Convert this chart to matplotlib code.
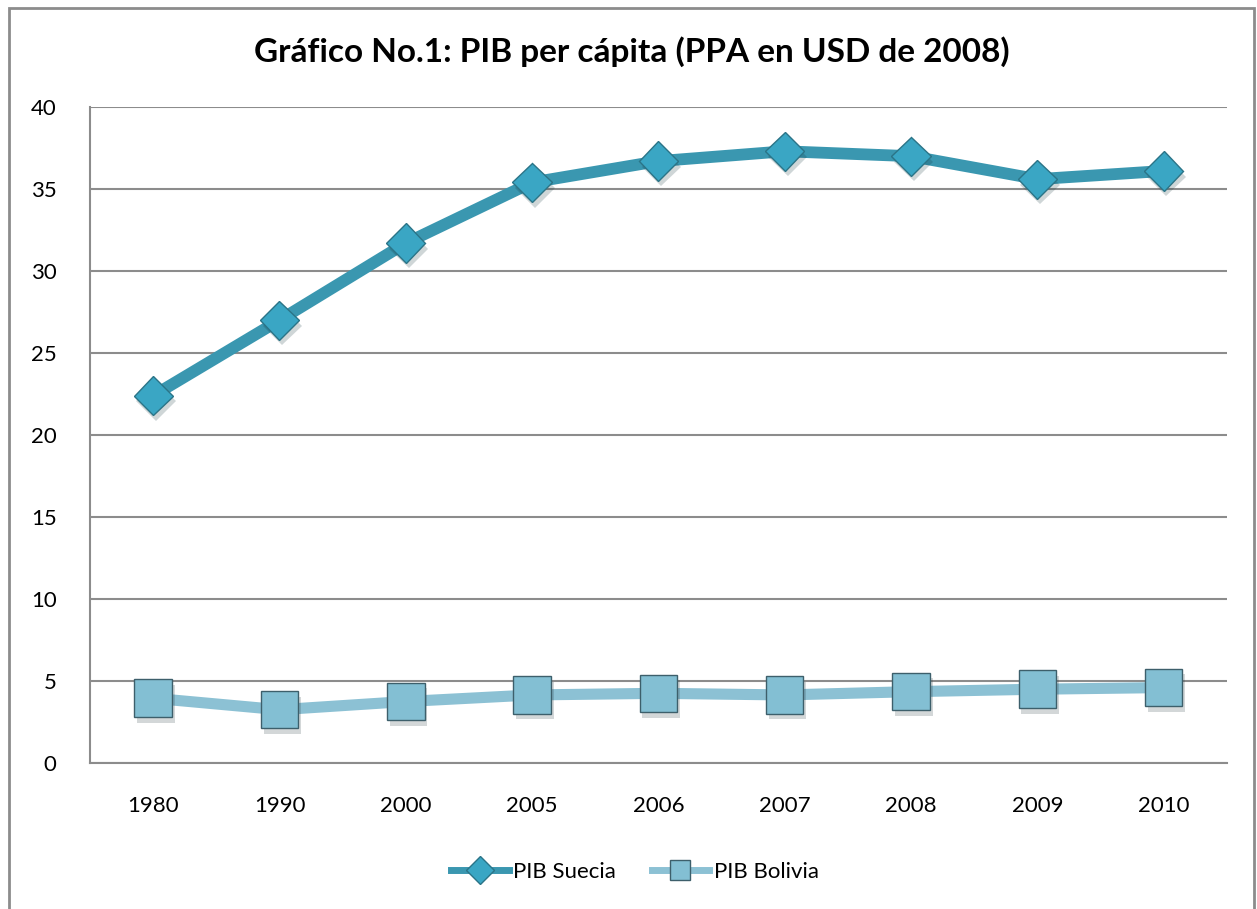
import matplotlib.pyplot as plt
import matplotlib.patheffects as pe
from matplotlib.patches import Rectangle
from matplotlib.lines import Line2D

# data
years = ["1980", "1990", "2000", "2005", "2006", "2007", "2008", "2009", "2010"]
pib_suecia = [22.4, 27.0, 31.7, 35.4, 36.7, 37.3, 37.0, 35.6, 36.1]
pib_bolivia = [3.95, 3.25, 3.75, 4.15, 4.25, 4.15, 4.35, 4.5, 4.6]

plt.rcParams["font.family"] = ["Lato", "DejaVu Sans"]

fig = plt.figure(figsize=(12.57, 9.09), dpi=100)
ax = fig.add_axes([0.0716, 0.1606, 0.9044, 0.7217])

# outer chart border
fig.patches.append(Rectangle((9 / 1257, -0.05), 1245 / 1257, 1.05 - 8 / 909,
                             transform=fig.transFigure, fill=False,
                             edgecolor="#8c8c8c", linewidth=2))

x = list(range(len(years)))
shadow = [pe.SimplePatchShadow(offset=(2, -4), alpha=0.2), pe.Normal()]

# lines
ax.plot(x, pib_suecia, color="#3a97b0", linewidth=8.5, solid_capstyle="round", zorder=3)
ax.plot(x, pib_bolivia, color="#8cc1d4", linewidth=8, solid_capstyle="round", zorder=3)
# markers with a soft shadow
ax.plot(x, pib_suecia, linestyle="none", marker="D", markersize=20,
        markerfacecolor="#3aa6c4", markeredgecolor="#2b7487", markeredgewidth=1,
        zorder=4, path_effects=shadow)
ax.plot(x, pib_bolivia, linestyle="none", marker="s", markersize=27,
        markerfacecolor="#83bfd3", markeredgecolor="#3d5f6b", markeredgewidth=1,
        zorder=4, path_effects=shadow)

ax.set_xlim(-0.5, len(years) - 0.5)
ax.set_ylim(0, 40)
ax.set_yticks(range(0, 41, 5))
ax.set_xticks(x)
ax.set_xticklabels(years)
ax.tick_params(length=0, labelsize=16)
ax.tick_params(axis="y", pad=24)
ax.tick_params(axis="x", pad=24)
ax.yaxis.grid(True, color="#8c8c8c", linewidth=1.5)
ax.set_axisbelow(True)
for s in ["top", "right"]:
    ax.spines[s].set_visible(False)
for s in ["left", "bottom"]:
    ax.spines[s].set_color("#8c8c8c")
    ax.spines[s].set_linewidth(1.5)

fig.text(0.503, 0.943, "Gráfico No.1: PIB per cápita (PPA en USD de 2008)",
         ha="center", va="center", fontsize=24, fontweight="bold")

handles = [
    Line2D([], [], color="#3a97b0", linewidth=5, marker="D", markersize=14,
           markerfacecolor="#3aa6c4", markeredgecolor="#2b7487", label="PIB Suecia"),
    Line2D([], [], color="#8cc1d4", linewidth=5, marker="s", markersize=15,
           markerfacecolor="#83bfd3", markeredgecolor="#3d5f6b", label="PIB Bolivia"),
]
leg = fig.legend(handles=handles, loc="center", bbox_to_anchor=(0.505, 1 - 872 / 909),
                 ncol=2, frameon=False, fontsize=16, handlelength=2.6,
                 columnspacing=1.6, handletextpad=0.2)

fig.savefig("out.png", dpi=100)
